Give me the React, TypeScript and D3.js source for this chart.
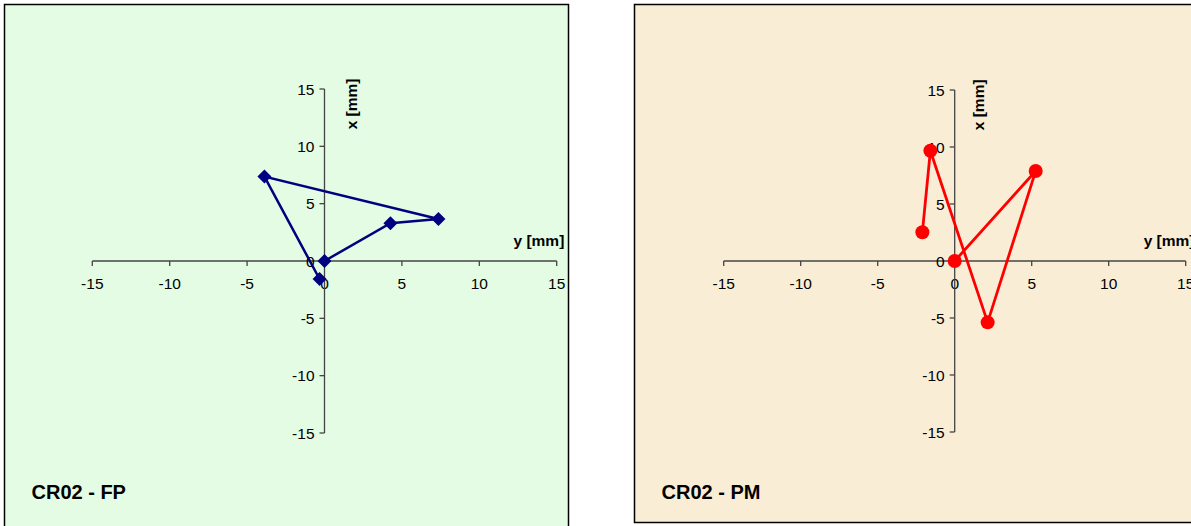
import * as d3 from "d3";

// tick values shared by both axes
const ticks = [-15, -10, -5, 0, 5, 10, 15];

// CR02 - FP (navy diamonds), points in drawing order [y, x]
const fpY = [0, 4.26, 7.36, -3.88, -0.32];
const fpX = [0, 3.29, 3.66, 7.36, -1.57];

// CR02 - PM (red circles)
const pmY = [-2.1, -1.58, 2.14, 5.26, 0];
const pmX = [2.52, 9.67, -5.38, 7.9, 0];

type PanelProps = {
    title: string;
    frame: [number, number, number, number];
    bg: string;
    xRange: [number, number];
    yRange: [number, number];
    ys: number[];
    xs: number[];
    color: string;
    marker: "diamond" | "circle";
    xLabelDx: number;
    lineWidth: number;
};

function Panel({
    title,
    frame,
    bg,
    xRange,
    yRange,
    ys,
    xs,
    color,
    marker,
    xLabelDx,
    lineWidth,
}: PanelProps) {
    const sx = d3.scaleLinear().domain([-15, 15]).range(xRange);
    const sy = d3.scaleLinear().domain([-15, 15]).range(yRange);
    const ox = sx(0);
    const oy = sy(0);
    const pts = ys.map((v, i) => [sx(v), sy(xs[i])] as [number, number]);
    const path = d3.line()(pts) || "";
    const font = "'Liberation Sans', Arial, sans-serif";
    const axis = "#444";

    return (
        <g fontFamily={font}>
            <rect
                x={frame[0]}
                y={frame[1]}
                width={frame[2]}
                height={frame[3]}
                fill={bg}
                stroke="#000"
                strokeWidth={1.5}
            />
            {/* horizontal axis */}
            <line x1={sx(-15)} x2={sx(15)} y1={oy} y2={oy} stroke={axis} strokeWidth={1.3} />
            {ticks.map((t) => (
                <g key={"h" + t}>
                    <line x1={sx(t)} x2={sx(t)} y1={oy} y2={oy + 5} stroke={axis} strokeWidth={1.3} />
                    <text
                        x={sx(t)}
                        y={oy + 28}
                        textAnchor="middle"
                        fontSize={15.5}
                        fill="#000"
                    >
                        {t}
                    </text>
                </g>
            ))}
            {/* vertical axis */}
            <line x1={ox} x2={ox} y1={sy(-15)} y2={sy(15)} stroke={axis} strokeWidth={1.3} />
            {ticks.map((t) => (
                <g key={"v" + t}>
                    <line x1={ox - 5} x2={ox} y1={sy(t)} y2={sy(t)} stroke={axis} strokeWidth={1.3} />
                    <text
                        x={ox - 10}
                        y={sy(t) + 5.5}
                        textAnchor="end"
                        fontSize={15.5}
                        fill="#000"
                    >
                        {t}
                    </text>
                </g>
            ))}
            <text
                transform={`translate(${ox + xLabelDx}, ${sy(13.7)}) rotate(-90)`}
                textAnchor="middle"
                fontSize={15.5}
                fontWeight="bold"
            >
                x [mm]
            </text>
            <text
                x={ox + 189}
                y={oy - 15}
                fontSize={15.5}
                fontWeight="bold"
            >
                y [mm]
            </text>
            <path d={path} fill="none" stroke={color} strokeWidth={lineWidth} />
            {pts.map(([px, py], i) =>
                marker === "diamond" ? (
                    <path
                        key={i}
                        d={`M${px},${py - 7}L${px + 7},${py}L${px},${py + 7}L${px - 7},${py}Z`}
                        fill={color}
                    />
                ) : (
                    <circle key={i} cx={px} cy={py} r={7} fill={color} />
                )
            )}
            <text
                x={frame[0] + 27}
                y={499}
                fontSize={20}
                fontWeight="bold"
            >
                {title}
            </text>
        </g>
    );
}

export default function App() {
    return (
        <svg
            width={1191}
            height={526}
            style={{ position: "absolute", left: 0, top: 0, background: "#fff" }}
        >
            <Panel
                title="CR02 - FP"
                frame={[4.5, 4.5, 564, 540]}
                bg="#e3fce3"
                xRange={[92.3, 556.7]}
                yRange={[433, 89]}
                ys={fpY}
                xs={fpX}
                color="#000080"
                marker="diamond"
                xLabelDx={32}
                lineWidth={2.5}
            />
            <Panel
                title="CR02 - PM"
                frame={[634.5, 4.5, 600, 518]}
                bg="#f9edd6"
                xRange={[723.7, 1185.7]}
                yRange={[432, 90]}
                ys={pmY}
                xs={pmX}
                color="#ff0000"
                marker="circle"
                xLabelDx={29}
                lineWidth={2.8}
            />
        </svg>
    );
}
